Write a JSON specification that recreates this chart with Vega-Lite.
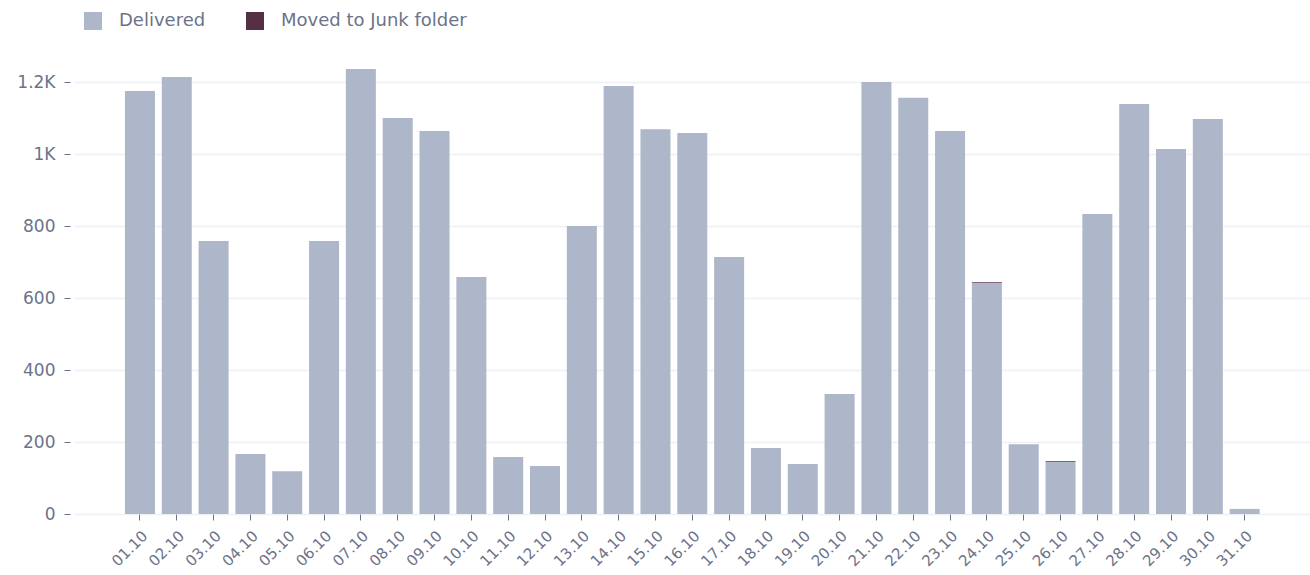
{
  "$schema": "https://vega.github.io/schema/vega-lite/v6.json",
  "width": 1240,
  "height": 468,
  "autosize": {"type": "none"},
  "padding": {"left": 70, "top": 46, "right": 0, "bottom": 61},
  "background": "white",
  "config": {
    "font": "DejaVu Sans",
    "view": {"stroke": null},
    "axis": {"labelColor": "#6b7389", "tickColor": "#6b7389", "labelFont": "DejaVu Sans"}
  },
  "data": {
    "values": [
      {"day": "01.10", "status": "Delivered", "count": 1175},
      {"day": "02.10", "status": "Delivered", "count": 1214},
      {"day": "03.10", "status": "Delivered", "count": 758},
      {"day": "04.10", "status": "Delivered", "count": 167},
      {"day": "05.10", "status": "Delivered", "count": 119},
      {"day": "06.10", "status": "Delivered", "count": 758},
      {"day": "07.10", "status": "Delivered", "count": 1236},
      {"day": "08.10", "status": "Delivered", "count": 1100},
      {"day": "09.10", "status": "Delivered", "count": 1064},
      {"day": "10.10", "status": "Delivered", "count": 658},
      {"day": "11.10", "status": "Delivered", "count": 158},
      {"day": "12.10", "status": "Delivered", "count": 133},
      {"day": "13.10", "status": "Delivered", "count": 800},
      {"day": "14.10", "status": "Delivered", "count": 1189},
      {"day": "15.10", "status": "Delivered", "count": 1069},
      {"day": "16.10", "status": "Delivered", "count": 1058},
      {"day": "17.10", "status": "Delivered", "count": 714},
      {"day": "18.10", "status": "Delivered", "count": 183},
      {"day": "19.10", "status": "Delivered", "count": 139},
      {"day": "20.10", "status": "Delivered", "count": 333},
      {"day": "21.10", "status": "Delivered", "count": 1200},
      {"day": "22.10", "status": "Delivered", "count": 1156},
      {"day": "23.10", "status": "Delivered", "count": 1064},
      {"day": "24.10", "status": "Delivered", "count": 642},
      {"day": "24.10", "status": "Moved to Junk folder", "count": 2},
      {"day": "25.10", "status": "Delivered", "count": 194},
      {"day": "26.10", "status": "Delivered", "count": 145},
      {"day": "26.10", "status": "Moved to Junk folder", "count": 2},
      {"day": "27.10", "status": "Delivered", "count": 833},
      {"day": "28.10", "status": "Delivered", "count": 1139},
      {"day": "29.10", "status": "Delivered", "count": 1014},
      {"day": "30.10", "status": "Delivered", "count": 1097},
      {"day": "31.10", "status": "Delivered", "count": 14}
    ]
  },
  "mark": {"type": "bar"},
  "encoding": {
    "x": {
      "field": "day",
      "type": "ordinal",
      "sort": null,
      "scale": {
        "domain": ["pad-left", "01.10", "02.10", "03.10", "04.10", "05.10", "06.10", "07.10", "08.10", "09.10", "10.10", "11.10", "12.10", "13.10", "14.10", "15.10", "16.10", "17.10", "18.10", "19.10", "20.10", "21.10", "22.10", "23.10", "24.10", "25.10", "26.10", "27.10", "28.10", "29.10", "30.10", "31.10", "pad-right"],
        "range": [4.6, 1240],
        "paddingInner": 0.185,
        "paddingOuter": 0.367
      },
      "axis": {
        "title": null,
        "domain": false,
        "values": ["01.10", "02.10", "03.10", "04.10", "05.10", "06.10", "07.10", "08.10", "09.10", "10.10", "11.10", "12.10", "13.10", "14.10", "15.10", "16.10", "17.10", "18.10", "19.10", "20.10", "21.10", "22.10", "23.10", "24.10", "25.10", "26.10", "27.10", "28.10", "29.10", "30.10", "31.10"],
        "labelAngle": -45,
        "labelFontSize": 15,
        "tickSize": 6,
        "labelPadding": 8,
        "grid": false
      }
    },
    "y": {
      "field": "count",
      "type": "quantitative",
      "stack": "zero",
      "scale": {"domain": [0, 1300], "nice": false},
      "axis": {
        "title": null,
        "domain": false,
        "values": [0, 200, 400, 600, 800, 1000, 1200],
        "labelExpr": "datum.value >= 1000 ? format(datum.value / 1000, '~g') + 'K' : datum.label",
        "labelFontSize": 17,
        "tickSize": 6,
        "labelPadding": 9,
        "gridColor": "#eef0f4",
        "gridWidth": 1.5
      }
    },
    "color": {
      "field": "status",
      "type": "nominal",
      "scale": {"domain": ["Delivered", "Moved to Junk folder"], "range": ["#aeb6c9", "#552f45"]},
      "legend": {
        "title": null,
        "orient": "none",
        "direction": "horizontal",
        "legendX": 14,
        "legendY": -34,
        "symbolType": "square",
        "symbolSize": 324,
        "symbolStrokeWidth": 0,
        "labelFontSize": 18,
        "labelLimit": 0,
        "labelColor": "#6b7389",
        "labelOffset": 17,
        "columnPadding": 40
      }
    },
    "order": {"field": "status", "sort": "ascending"}
  }
}
